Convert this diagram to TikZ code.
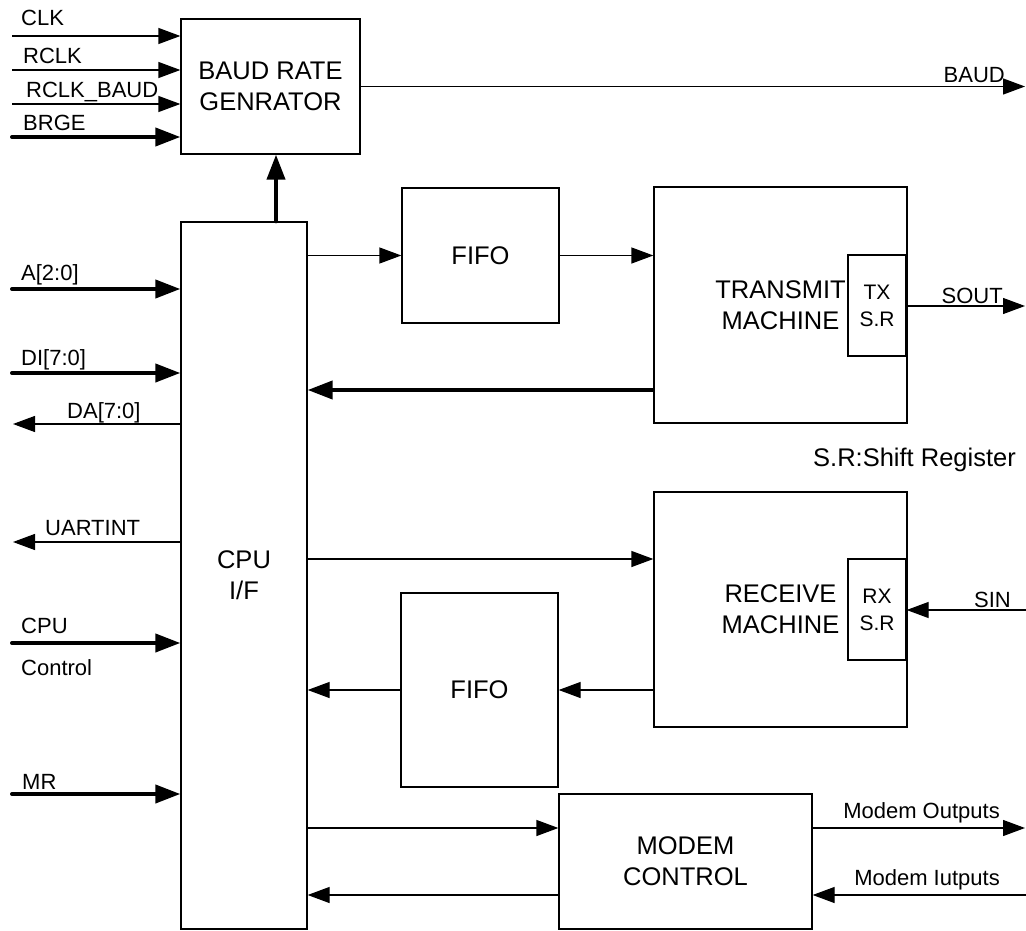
\documentclass[tikz,border=0pt]{standalone}
\usepackage{fontspec}
\setmainfont{Liberation Sans}
\usetikzlibrary{arrows.meta,positioning}

\begin{document}
\begin{tikzpicture}[
    x=1pt, y=-1pt,
    % Blocks
    block/.style={rectangle, draw=black, line width=1.3pt, inner sep=0pt, align=center, font=\fontsize{25.5}{31}\selectfont},
    srbox/.style={rectangle, draw=black, fill=white, line width=1.3pt, inner sep=0pt, minimum width=58pt, minimum height=101pt, align=center, font=\fontsize{21}{27}\selectfont},
    % Signals
    sig/.style={-{Triangle[length=22pt, width=16pt]}, line width=1.3pt},
    bus/.style={-{Triangle[length=25pt, width=18pt]}, line width=4pt, line cap=round},
    lbl/.style={inner sep=0pt, font=\fontsize{22}{26}\selectfont}
]
\useasboundingbox (0,0) rectangle (1026,931);

% Blocks
\node[block, minimum width=179pt, minimum height=135pt] (baud) at (270.5,86.5) {BAUD RATE\\GENRATOR};
\node[block, minimum width=126pt, minimum height=707pt] (cpu) at (244,575.5) {CPU\\I/F};
\node[block, minimum width=157pt, minimum height=135pt] (fifoT) at (480.5,255.5) {FIFO};
\node[block, minimum width=253pt, minimum height=236pt] (tx) at (780.5,305) {TRANSMIT\\MACHINE};
\node[srbox] (txsr) at (877,305.5) {TX\\S.R};
\node[block, minimum width=253pt, minimum height=235pt] (rx) at (780.5,609.5) {RECEIVE\\MACHINE};
\node[srbox] (rxsr) at (877,609.5) {RX\\S.R};
\node[block, minimum width=157pt, minimum height=194pt] (fifoR) at (479.5,690) {FIFO};
\node[block, minimum width=253pt, minimum height=135pt] (modem) at (685.5,861.5) {MODEM\\CONTROL};

% Baud rate generator inputs
\coordinate (clk) at (12,36);
\coordinate (rclk) at (12,70);
\coordinate (rclkbaud) at (12,104);
\coordinate (brge) at (12,137);
\draw[sig] (clk) -- (clk -| baud.west);
\draw[sig] (rclk) -- (rclk -| baud.west);
\draw[sig] (rclkbaud) -- (rclkbaud -| baud.west);
\draw[bus] (brge) -- (brge -| baud.west);
\node[lbl, anchor=base west] (l_clk) at (21,26) {CLK};
\node[lbl, anchor=base west] (l_rclk) at (23,64) {RCLK};
\node[lbl, anchor=base west] (l_rclkbaud) at (26,98) {RCLK\_BAUD};
\node[lbl, anchor=base west] (l_brge) at (23,131) {BRGE};

% Baud output
\coordinate (baudout) at (1025,86.5);
\draw[sig] (baud.east) -- (baudout);
\node[lbl, anchor=base east] (l_baud) at (1005,83) {BAUD};

% CPU interface pins
\coordinate (addr) at (12,289);
\coordinate (din) at (12,373);
\coordinate (dout) at (13,424);
\coordinate (uart) at (13,542);
\coordinate (cpuctl) at (12,643);
\coordinate (mr) at (12,794);
\draw[bus] (addr) -- (addr -| cpu.west);
\draw[bus] (din) -- (din -| cpu.west);
\draw[sig] (cpu.west |- dout) -- (dout);
\draw[sig] (cpu.west |- uart) -- (uart);
\draw[bus] (cpuctl) -- (cpuctl -| cpu.west);
\draw[bus] (mr) -- (mr -| cpu.west);
\node[lbl, anchor=base west] (l_addr) at (21,280) {A[2:0]};
\node[lbl, anchor=base west] (l_din) at (21,365) {DI[7:0]};
\node[lbl, anchor=base west] (l_dout) at (67,418) {DA[7:0]};
\node[lbl, anchor=base west] (l_uart) at (45,535) {UARTINT};
\node[lbl, anchor=base west] (l_cpuctl) at (21,633) {CPU};
\node[lbl, anchor=base west] (l_cpuctl2) at (21,675) {Control};
\node[lbl, anchor=base west] (l_mr) at (22,789) {MR};

% CPU to baud rate generator
\draw[bus] (cpu.north -| 276,0) -- (baud.south -| 276,0);

% Transmit path
\draw[sig] (cpu.east |- fifoT.west) -- (fifoT.west);
\draw[sig] (fifoT.east) -- (fifoT.east -| tx.west);
\draw[bus, line cap=butt] (tx.west |- 0,390) -- (cpu.east |- 0,390);
\coordinate (sout) at (1025,306);
\draw[sig] (txsr.east |- sout) -- (sout);
\node[lbl, anchor=base east] (l_sout) at (1003,303) {SOUT};
\node[anchor=base west, inner sep=0pt, font=\fontsize{25.5}{31}\selectfont] (note) at (813,466) {S.R:Shift Register};

% Receive path
\draw[sig] (cpu.east |- 0,559) -- (rx.west |- 0,559);
\draw[sig] (rx.west |- fifoR.east) -- (fifoR.east);
\draw[sig] (fifoR.west) -- (cpu.east |- fifoR.west);
\coordinate (sin) at (1026,610);
\draw[sig] (sin) -- (rxsr.east |- sin);
\node[lbl, anchor=base east] (l_sin) at (1011,607) {SIN};

% Modem control
\coordinate (mout) at (1025,828);
\coordinate (min) at (1026,895);
\draw[sig] (cpu.east |- mout) -- (modem.west |- mout);
\draw[sig] (modem.west |- min) -- (cpu.east |- min);
\draw[sig] (modem.east |- mout) -- (mout);
\draw[sig] (min) -- (modem.east |- min);
\node[lbl, anchor=base east] (l_mout) at (1000,818) {Modem Outputs};
\node[lbl, anchor=base east] (l_min) at (1000,885) {Modem Iutputs};

\end{tikzpicture}
\end{document}
